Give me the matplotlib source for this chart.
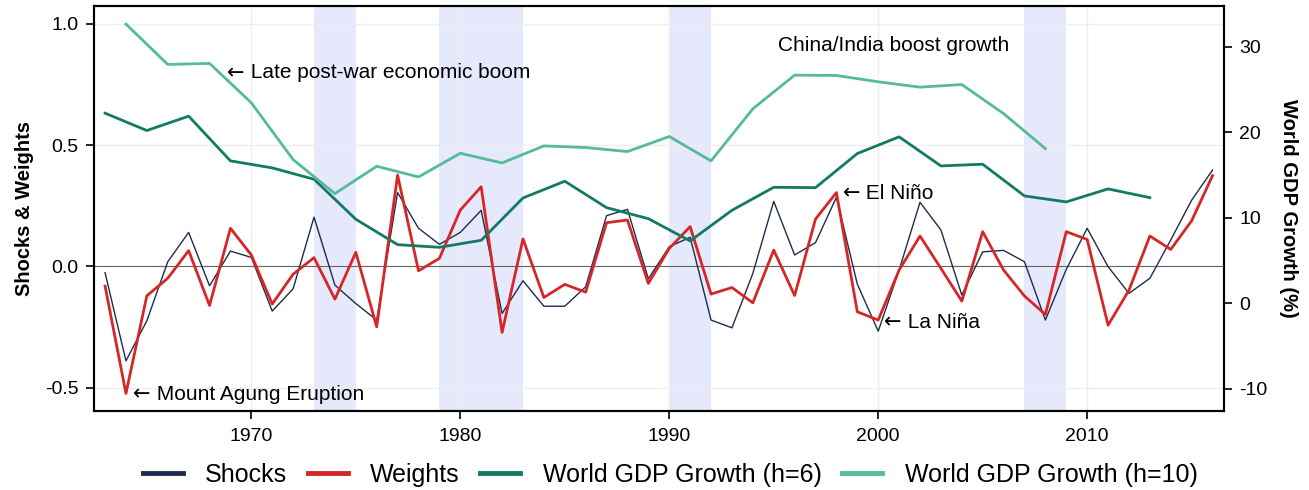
import matplotlib
matplotlib.use("Agg")
import matplotlib.pyplot as plt
from matplotlib.lines import Line2D

plt.rcParams['font.family'] = ['Liberation Sans', 'DejaVu Sans']

years = list(range(1963, 2017))
shocks = [-0.026, -0.389, -0.224, 0.019, 0.140, -0.080, 0.063, 0.037, -0.184, -0.092,
          0.203, -0.077, -0.153, -0.221, 0.304, 0.157, 0.091, 0.140, 0.231, -0.194,
          -0.059, -0.164, -0.164, -0.084, 0.209, 0.235, -0.051, 0.081, 0.120, -0.221,
          -0.253, -0.029, 0.268, 0.047, 0.098, 0.285, -0.073, -0.267, -0.015, 0.264,
          0.150, -0.118, 0.060, 0.066, 0.019, -0.221, -0.012, 0.157, -0.001, -0.111,
          -0.049, 0.109, 0.273, 0.397]
weights = [-0.081, -0.523, -0.121, -0.049, 0.065, -0.161, 0.157, 0.047, -0.155, -0.032,
           0.036, -0.135, 0.058, -0.249, 0.376, -0.018, 0.033, 0.232, 0.328, -0.272,
           0.113, -0.128, -0.074, -0.106, 0.180, 0.191, -0.070, 0.074, 0.164, -0.114,
           -0.087, -0.150, 0.067, -0.120, 0.195, 0.304, -0.187, -0.221, -0.015, 0.125,
           -0.008, -0.143, 0.143, -0.015, -0.122, -0.198, 0.143, 0.111, -0.242, -0.098,
           0.125, 0.070, 0.188, 0.374]

years_h6 = list(range(1963, 2014, 2))
gdp_h6 = [22.25, 20.22, 21.90, 16.67, 15.85, 14.52, 9.84, 6.87, 6.56, 7.38,
          12.33, 14.29, 11.20, 9.91, 7.30, 10.89, 13.58, 13.54, 17.53, 19.48,
          16.08, 16.28, 12.57, 11.87, 13.39, 12.37]

years_h10 = list(range(1964, 2009, 2))
gdp_h10 = [32.67, 27.95, 28.07, 23.46, 16.82, 12.84, 16.04, 14.79, 17.56, 16.43,
           18.42, 18.23, 17.76, 19.52, 16.67, 22.76, 26.70, 26.66, 25.92, 25.29,
           25.60, 22.2, 18.11]

recessions = [(1973, 1975), (1979, 1983), (1990, 1992), (2007, 2009)]

c_shock = '#1e2d4d'
c_weight = '#d62728'
c_h6 = '#137a66'
c_h10 = '#55bb98'

fig = plt.figure(figsize=(13.09, 4.9), dpi=100)
ax = fig.add_axes([0.0718, 0.161, 0.8633, 0.827])
ax2 = ax.twinx()

for a, b in recessions:
    ax.axvspan(a, b, color='#e6e8fb', lw=0, zorder=0)

ax.axhline(0, color='#666666', lw=0.8, zorder=1)
ax.plot(years, shocks, color=c_shock, lw=1.0, zorder=3)
ax.plot(years, weights, color=c_weight, lw=2.0, zorder=4)
ax2.plot(years_h6, gdp_h6, color=c_h6, lw=2.0)
ax2.plot(years_h10, gdp_h10, color=c_h10, lw=2.0)

ax.set_xlim(1962.47, 2016.55)
ax.set_ylim(-0.596, 1.073)
ax2.set_ylim(-12.6, 34.8)
ax.set_yticks([-0.5, 0.0, 0.5, 1.0])
ax.set_yticklabels(['-0.5', '0.0', '0.5', '1.0'])
ax2.set_yticks([-10, 0, 10, 20, 30])
ax2.set_yticklabels(['-10', '0', '10', '20', '30'])
ax.set_xticks([1970, 1980, 1990, 2000, 2010])

ax.grid(True, color='#eeeeee', lw=1.0, zorder=0)
ax.set_axisbelow(True)

for a in (ax, ax2):
    for s in a.spines.values():
        s.set_linewidth(1.5)
        s.set_color('black')
    a.tick_params(direction='out', length=6, width=1.2, labelsize=14, pad=5)
ax.tick_params(axis='x', pad=6)

ax.set_ylabel('Shocks & Weights', fontsize=14.5, fontweight='bold', labelpad=8)
ax2.set_ylabel('World GDP Growth (%)', fontsize=14.5, fontweight='bold', rotation=270, labelpad=22)

fs_ann = 15
arrow_font = ['DejaVu Sans']
def note(x, y, label, arrow=True):
    if arrow:
        t = ax.annotate('\u2190', (x, y), fontsize=fs_ann, va='center', ha='left',
                        family=arrow_font, zorder=5)
        ax.annotate(' ' + label, xy=(1, 0.5), xycoords=t, fontsize=fs_ann,
                    va='center', ha='left', zorder=5)
    else:
        ax.text(x, y, label, fontsize=fs_ann, va='center', ha='left', zorder=5)

note(1964.35, -0.526, 'Mount Agung Eruption')
note(1998.3, 0.302, 'El Ni\u00f1o')
note(2000.3, -0.23, 'La Ni\u00f1a')
note(1968.85, 0.797, 'Late post-war economic boom')
note(1995.2, 0.91, 'China/India boost growth', arrow=False)

handles = [Line2D([], [], color=c, lw=3.5) for c in (c_shock, c_weight, c_h6, c_h10)]
labels = ['Shocks', 'Weights', 'World GDP Growth (h=6)', 'World GDP Growth (h=10)']
fig.legend(handles=handles, labels=labels, loc='lower center', bbox_to_anchor=(0.512, -0.04),
           ncol=4, frameon=False, fontsize=18, handlelength=1.6, handletextpad=0.9,
           columnspacing=0.82)

fig.savefig('out.png', dpi=100)
